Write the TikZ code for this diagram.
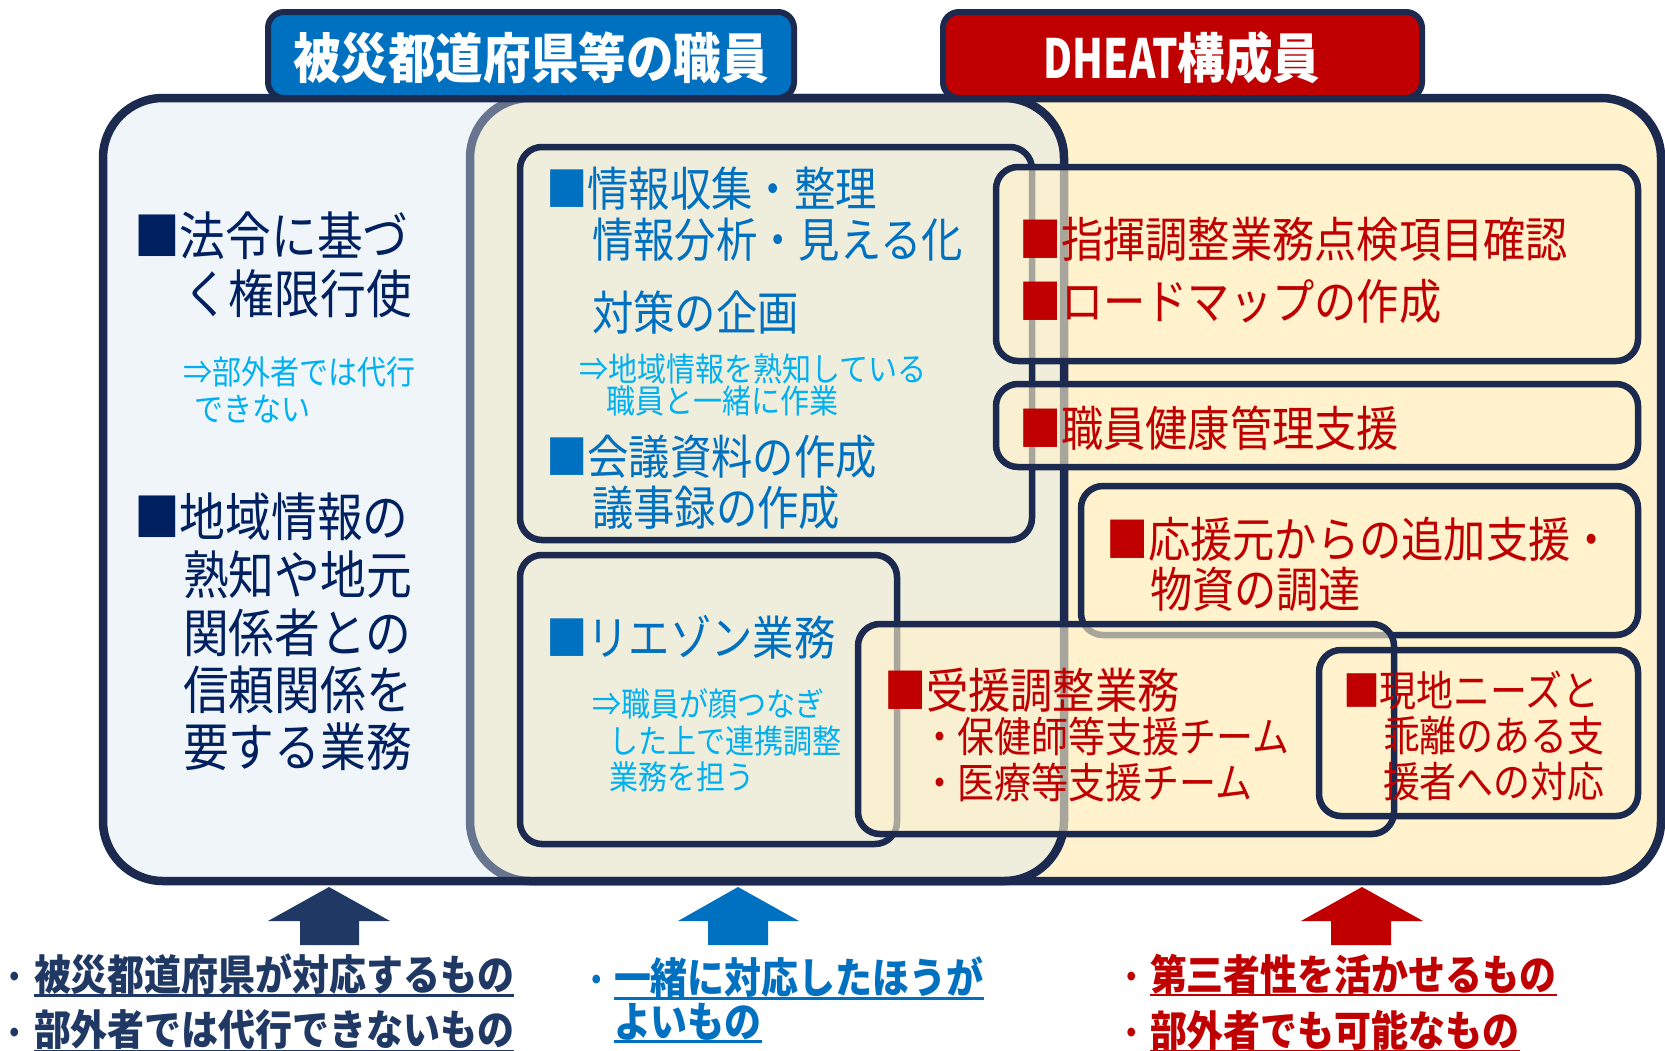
\documentclass[tikz,border=0pt]{standalone}
\usepackage{fontspec}
\newfontfamily\jp[FakeStretch=0.88]{Noto Sans CJK JP}
\newfontfamily\jpn[FakeStretch=0.74]{Noto Sans CJK JP}
\definecolor{navy}{HTML}{1B2A4E}
\definecolor{lbase}{HTML}{D9E6F2}
\definecolor{ylw}{HTML}{FFF2CC}
\definecolor{tblue}{HTML}{0070C0}
\definecolor{tred}{HTML}{C00000}
\definecolor{dkblue}{HTML}{002060}
\definecolor{ltblue}{HTML}{00B0F0}
\definecolor{arrnavy}{HTML}{203864}
\tikzset{
  frame/.style={draw=navy, line width=8.5pt, rounded corners=60pt},
  ibox/.style={draw=navy, line width=6.5pt, rounded corners=22pt},
  ifill/.style={fill=ylw, fill opacity=0.62},
  txt/.style={anchor=west, inner sep=0pt, outer sep=0pt},
  lmain/.style={txt, text=dkblue, font=\jp\fontsize{52}{60}\selectfont},
  mmain/.style={txt, text=tblue, font=\jp\fontsize{47}{54}\selectfont},
  note/.style={txt, text=ltblue, font=\jp\fontsize{33}{38}\selectfont},
  rmain/.style={txt, text=tred, font=\jp\fontsize{48}{55}\selectfont},
  rsub/.style={txt, text=tred, font=\jp\fontsize{42}{48}\selectfont},
  btm/.style={txt, font=\jp\bfseries\fontsize{42}{48}\selectfont},
  bdot/.style={inner sep=0pt, outer sep=0pt, font=\jp\bfseries\fontsize{42}{48}\selectfont},
  ttl/.style={inner sep=0pt, text=white, font=\jp\bfseries\fontsize{54}{60}\selectfont},
  tbox/.style={draw=navy, line width=6pt, rounded corners=16pt},
}
\begin{document}
\begin{tikzpicture}[x=1pt,y=-1pt]
\useasboundingbox (0,0) rectangle (1665,1050);
% right (DHEAT) frame
\fill[ylw, rounded corners=60pt] (470,98) rectangle (1661,881);
\draw[frame] (470,98) rectangle (1661,881);
% left (prefecture) frame, translucent
\fill[lbase, fill opacity=0.4, rounded corners=60pt] (103,98) rectangle (1064,881);
\draw[frame] (103,98) rectangle (1064,881);
% titles
\draw[tbox, fill=tblue] (268,12) rectangle (794,98);
\draw[tbox, fill=tred] (943,12) rectangle (1422,98);
\node[ttl] (t1) at (531,58) {被災都道府県等の職員};
\node[ttl] (t2) at (1182,58) {{\jpn DHEAT}構成員};
% inner boxes
\draw[ibox] (520,147) rectangle (1032,540);
\draw[ibox] (520,555) rectangle (897,844);
\draw[ibox, ifill] (996,167) rectangle (1638,361);
\draw[ibox, ifill] (996,384) rectangle (1638,467);
\draw[ibox, ifill] (1081,486) rectangle (1638,635);
\draw[ibox, ifill] (858,624) rectangle (1394,834);
\draw[ibox] (1319,650) rectangle (1638,816);
% left texts
\node[lmain] (l1) at (134,236) {■法令に基づ};
\node[lmain] (l2) at (183,294) {く権限行使};
\node[note] (l3) at (183,372) {⇒部外者では代行};
\node[note] (l4) at (194,409) {できない};
\node[lmain] (l5) at (134,517) {■地域情報の};
\node[lmain] (l6) at (183,575) {熟知や地元};
\node[lmain] (l7) at (183,633) {関係者との};
\node[lmain] (l8) at (183,690) {信頼関係を};
\node[lmain] (l9) at (183,747) {要する業務};
% middle texts
\node[mmain] (m1) at (546,189) {■情報収集・整理};
\node[mmain] (m2) at (592,240) {情報分析・見える化};
\node[mmain] (m3) at (592,313) {対策の企画};
\node[note] (m4) at (579,369) {⇒地域情報を熟知している};
\node[note] (m5) at (606,401) {職員と一緒に作業};
\node[mmain] (m6) at (546,457) {■会議資料の作成};
\node[mmain] (m7) at (592,508) {議事録の作成};
\node[mmain] (m8) at (546,637) {■リエゾン業務};
\node[note] (m9) at (592,704) {⇒職員が顔つなぎ};
\node[note] (m10) at (609,741) {した上で連携調整};
\node[note] (m11) at (609,777) {業務を担う};
% right texts
\node[rmain] (r1) at (1019,239) {■指揮調整業務点検項目確認};
\node[rmain] (r2) at (1019,301) {■ロードマップの作成};
\node[rmain] (r3) at (1019,428) {■職員健康管理支援};
\node[rmain] (r4) at (1106,539) {■応援元からの追加支援・};
\node[rmain] (r5) at (1150,589) {物資の調達};
\node[rmain] (r6) at (884,690) {■受援調整業務};
\node[rsub] (r7) at (921,736) {・保健師等支援チーム};
\node[rsub] (r8) at (921,782) {・医療等支援チーム};
\node[rsub] (r9) at (1343,690) {■現地ニーズと};
\node[rsub] (r10) at (1383,736) {乖離のある支};
\node[rsub] (r11) at (1383,782) {援者への対応};
% arrows
\fill[arrnavy] (329,887) -- (390,921) -- (359,921) -- (359,945) -- (300,945) -- (300,921) -- (268,921) -- cycle;
\fill[tblue] (738,887) -- (799,921) -- (768,921) -- (768,945) -- (708,945) -- (708,921) -- (678,921) -- cycle;
\fill[tred] (1362,887) -- (1423,921) -- (1391,921) -- (1391,945) -- (1331,945) -- (1331,921) -- (1301,921) -- cycle;
% bottom texts
\node[bdot, text=arrnavy] (b1d) at (15,982) {･};
\node[btm, text=arrnavy] (b1) at (34,974) {被災都道府県が対応するもの};
\node[bdot, text=arrnavy] (b2d) at (15,1038) {･};
\node[btm, text=arrnavy] (b2) at (34,1030) {部外者では代行できないもの};
\node[bdot, text=tblue] (b3d) at (597,985) {･};
\node[btm, text=tblue] (b3) at (614,977) {一緒に対応したほうが};
\node[btm, text=tblue] (b4) at (614,1022) {よいもの};
\node[bdot, text=tred] (b5d) at (1132,982) {･};
\node[btm, text=tred] (b5) at (1150,974) {第三者性を活かせるもの};
\node[bdot, text=tred] (b6d) at (1132,1038) {･};
\node[btm, text=tred] (b6) at (1150,1030) {部外者でも可能なもの};
\draw[arrnavy, line width=2.5pt] ([yshift=-1pt]b1.south west) -- ([yshift=-1pt]b1.south east);
\draw[arrnavy, line width=2.5pt] ([yshift=-1pt]b2.south west) -- ([yshift=-1pt]b2.south east);
\draw[tblue, line width=2.5pt] ([yshift=-1pt]b3.south west) -- ([yshift=-1pt]b3.south east);
\draw[tblue, line width=2.5pt] ([yshift=-1pt]b4.south west) -- ([yshift=-1pt]b4.south east);
\draw[tred, line width=2.5pt] ([yshift=-1pt]b5.south west) -- ([yshift=-1pt]b5.south east);
\draw[tred, line width=2.5pt] ([yshift=-1pt]b6.south west) -- ([yshift=-1pt]b6.south east);
\end{tikzpicture}
\end{document}
